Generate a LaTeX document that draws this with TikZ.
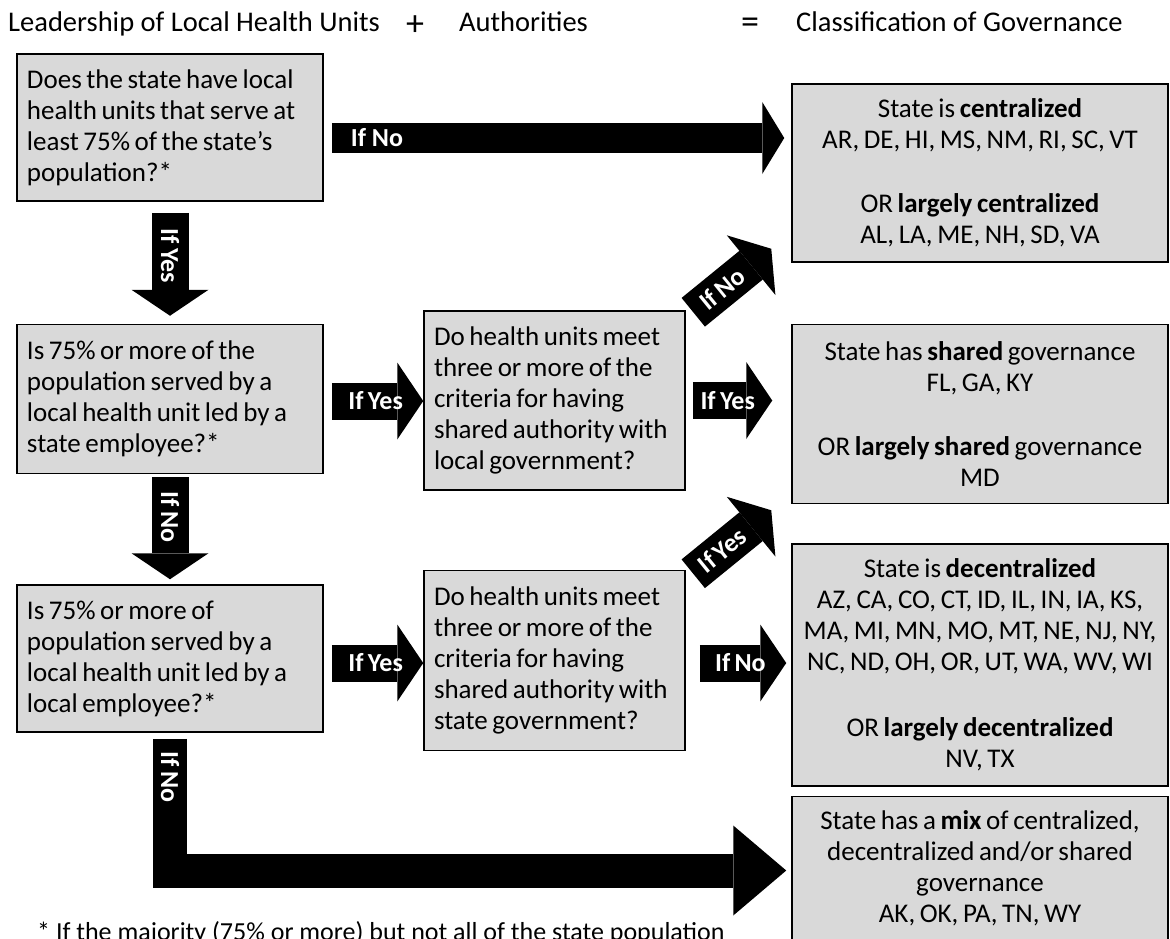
\documentclass[tikz,border=0pt]{standalone}
\usepackage{fontspec}
\setmainfont{Carlito}
\usepackage{tikz}
\usetikzlibrary{arrows.meta,positioning,calc}
\definecolor{boxgray}{HTML}{D9D9D9}
\newcommand{\govfont}{\fontsize{27}{31}\selectfont}
\newcommand{\tagfont}{\fontsize{26}{31}\selectfont\bfseries}
\newcommand{\headfont}{\fontsize{28.5}{34}\selectfont}
\newcommand{\tightsp}{\spaceskip=0.75\fontdimen2\font\relax}

\begin{document}
\begin{tikzpicture}[
    x=1pt, y=-1pt,
    % --- STYLES ---
    ask/.style={
        rectangle, draw=black, line width=1.5pt, fill=boxgray,
        text width=286pt, inner xsep=10pt, inner ysep=0pt,
        align=left, font=\govfont, execute at begin node=\tightsp
    },
    crit/.style={
        rectangle, draw=black, line width=1.5pt, fill=boxgray,
        text width=241pt, inner xsep=10pt, inner ysep=0pt,
        align=left, font=\govfont, execute at begin node=\tightsp
    },
    result/.style={
        rectangle, draw=black, line width=1.5pt, fill=boxgray,
        text width=372pt, inner xsep=2pt, inner ysep=0pt,
        align=center, font=\govfont, execute at begin node=\tightsp
    },
    head/.style={font=\headfont, inner sep=0pt},
    flow/.style={draw=black, line width=37pt,
        -{Triangle[width=77pt, length=26pt, line width=0pt]}},
    lbl/.style={text=white, font=\tagfont, inner sep=1pt}
]
\clip (0,0) rectangle (1170,938);
\useasboundingbox (0,0) rectangle (1170,938);

% ===== 1. HEADERS =====
\node[head, anchor=base west] (hLead) at (8,31) {Leadership of Local Health Units};
\node[head, font=\fontsize{36}{36}\selectfont] (hPlus) at (415,26) {+};
\node[head, anchor=base west] (hAuth) at (459,31) {Authorities};
\node[head, font=\fontsize{36}{36}\selectfont] (hEq) at (750,26) {=};
\node[head, anchor=base west] (hClass) at (796,31) {Classification of Governance};

% ===== 2. QUESTION COLUMN =====
\node[ask, minimum height=147pt] (q1) at (170,127.5)
    {Does the state have local\\ health units that serve at\\ least 75\% of the state’s\\ population?*};
\node[ask, minimum height=149pt, below=122pt of q1] (q2)
    {Is 75\% or more of the\\ population served by a\\ local health unit led by a\\ state employee?*};
\node[ask, minimum height=147pt, below=110pt of q2] (q3)
    {Is 75\% or more of\\ population served by a\\ local health unit led by a\\ local employee?*};

% ===== 3. AUTHORITY COLUMN =====
\node[crit, minimum height=179pt] (mA) at (554.5,400.5)
    {Do health units meet\\ three or more of the\\ criteria for having\\ shared authority with\\ local government?};
\node[crit, minimum height=180pt, below=79pt of mA] (mB)
    {Do health units meet\\ three or more of the\\ criteria for having\\ shared authority with\\ state government?};

% ===== 4. CLASSIFICATION COLUMN =====
\node[result, minimum height=178pt] (cent) at (980,173)
    {State is \textbf{centralized}\\ AR, DE, HI, MS, NM, RI, SC, VT\\[33pt]
     OR \textbf{largely centralized}\\ AL, LA, ME, NH, SD, VA};
\node[result, minimum height=179pt, below=61pt of cent] (shar)
    {State has \textbf{shared} governance\\ FL, GA, KY\\[33pt]
     OR \textbf{largely shared} governance\\ MD};
\node[result, minimum height=242pt, below=39pt of shar] (dec)
    {State is \textbf{decentralized}\\ AZ, CA, CO, CT, ID, IL, IN, IA, KS,\\
     MA, MI, MN, MO, MT, NE, NJ, NY,\\ NC, ND, OH, OR, UT, WA, WV, WI\\[35pt]
     OR \textbf{largely decentralized}\\ NV, TX};
\node[result, minimum height=144pt, below=9pt of dec] (mix)
    {State has a \textbf{mix} of centralized,\\ decentralized and/or shared\\ governance\\ AK, OK, PA, TN, WY};

% ===== 5. CONNECTIONS =====
\draw[flow, line width=30pt, -{Triangle[width=72pt, length=22pt, line width=0pt]}]
    ($(q1.east)+(8,10.5)$) -- node[lbl, pos=0.1] {If No} ($(cent.west |- q1.east)+(-7,10.5)$);
\draw[flow] ([yshift=-11pt]q1.south) -- node[lbl, rotate=-90, pos=0.42] {If\,Yes} ([yshift=8pt]q2.north);
\draw[flow] ([yshift=-3pt]q2.south) -- node[lbl, rotate=-90, pos=0.39] {If\,No} ([yshift=5pt]q3.north);

\draw[flow] ($(q2.east)+(8,2)$) -- node[lbl, pos=0.48] {If\,Yes} ($(mA.west |- q2.east)+(0,2)$);
\draw[flow] ($(q3.east)+(8,4.5)$) -- node[lbl, pos=0.48] {If\,Yes} ($(mB.west |- q3.east)+(0,4.5)$);

\draw[flow] ($(mA.east)+(7,0)$) -- node[lbl, pos=0.44] {If\,Yes} ($(shar.west |- mA.east)+(-19,0)$);
\draw[flow] ($(mB.east)+(14,2.5)$) -- node[lbl, pos=0.47] {If\,No} ($(dec.west |- mB.east)+(-5,2.5)$);

\draw[flow] ($(mA.north east)+(7.5,2)$) -- node[lbl, sloped, pos=0.37] {If\,No} ($(cent.south west)+(-20,-14)$);
\draw[flow] ($(mB.north east)+(7.5,4)$) -- node[lbl, sloped, pos=0.37] {If\,Yes} ($(shar.south west)+(-20,6)$);

\draw[flow, line width=34pt, -{Triangle[width=90pt, length=53pt, line width=0pt]}]
    ([yshift=-6pt]q3.south) |- node[lbl, rotate=-90, pos=0.145] {If\,No} ($(mix.west)+(-5,2)$);

% ===== 6. FOOTNOTE =====
\node[font=\fontsize{26}{31}\selectfont, anchor=base west, inner sep=0pt] (note) at (37,940)
    {* If the majority (75\% or more) but not all of the state population};

\end{tikzpicture}
\end{document}
